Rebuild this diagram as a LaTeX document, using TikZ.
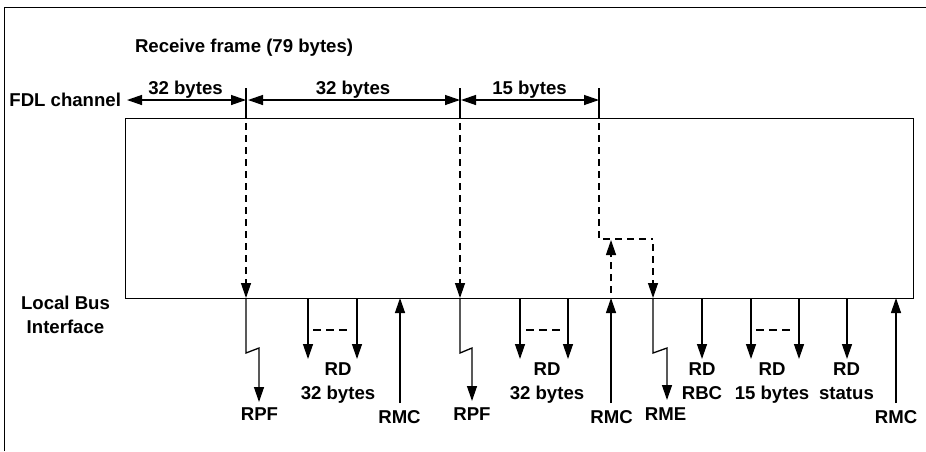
\documentclass[tikz,border=0pt]{standalone}
\usepackage{fontspec}
\setmainfont{Liberation Sans}
\usetikzlibrary{arrows.meta}
\begin{document}
\begin{tikzpicture}[x=1pt,y=-1pt,
  lbl/.style={font=\fontsize{18.6}{24}\selectfont\bfseries, inner sep=0pt, outer sep=0pt},
  ln/.style={line width=1.3pt},
  tip/.tip={Triangle[length=15pt,width=10pt]},
  arr/.style={ln,-tip},
  darr/.style={arr,dash pattern=on 7pt off 5pt, dash phase=7pt},
  dsh/.style={ln,dash pattern=on 7pt off 5pt, dash phase=7pt},
  dim/.style={ln,tip-tip},
  gap/.style={ln,dash pattern=on 8pt off 5pt},
]
\useasboundingbox (0,0) rectangle (926,451);
% outer frame
\draw[line width=1pt] (4,451) -- (4,7) -- (926,7);

% main box
\node[draw, ln, minimum width=788pt, minimum height=180pt, inner sep=0pt, anchor=north west] (box) at (125,118) {};

% texts
\node[lbl, anchor=base west] (title) at (135,52) {Receive frame (79 bytes)};
\node[lbl, anchor=base east] (fdl) at (121,106) {FDL channel};
\node[lbl, anchor=base] (d1) at (185.5,94) {32 bytes};
\node[lbl, anchor=base] (d2) at (353,94) {32 bytes};
\node[lbl, anchor=base] (d3) at (529.5,94) {15 bytes};
\node[lbl, align=center, anchor=north] (lbi) at (65.5,296.5) {Local Bus\\Interface};

% coordinates
\coordinate (a0) at (127,100);
\coordinate (a1) at (246,100);
\coordinate (a1b) at (248,100);
\coordinate (a2) at (460,100);
\coordinate (a2b) at (461,100);
\coordinate (a3) at (599,100);
\foreach \n/\x in {1/246,2/460,3/599}{
  \coordinate (t\n) at (\x,88);
  \coordinate (u\n) at (\x,118);
}
\coordinate (b1) at (246,298);
\coordinate (b2) at (460,298);
\coordinate (m3) at (599,239);
\coordinate (m4) at (653,239);
\coordinate (b4) at (653,298);
\coordinate (c5) at (611,298);
\coordinate (m5) at (611,240);

% dimension arrows
\draw[dim] (a0) -- (a1);
\draw[dim] (a1b) -- (a2);
\draw[dim] (a2b) -- (a3);
\draw[ln] (t1) -- (u1);
\draw[ln] (t2) -- (u2);
\draw[ln] (t3) -- (u3);

% dashed internal paths
\draw[darr] (u1) -- (b1);
\draw[darr] (u2) -- (b2);
\draw[dsh] (u3) -- (m3) -- (m4);
\draw[darr] (m4) -- (b4);
\draw[darr] (c5) -- (m5);

% labels at bottom
\node[lbl, anchor=base] (rpf1) at (259.5,420.5) {RPF};
\node[lbl, align=center, anchor=north] (rd1) at (338,362.7) {RD\\32 bytes};
\node[lbl, anchor=base] (rmc1) at (399.5,423) {RMC};
\node[lbl, anchor=base] (rpf2) at (472,420) {RPF};
\node[lbl, align=center, anchor=north] (rd2) at (547,362.7) {RD\\32 bytes};
\node[lbl, anchor=base] (rmc2) at (611.5,423) {RMC};
\node[lbl, anchor=base] (rme) at (665.5,420) {RME};
\node[lbl, align=center, anchor=north] (rd3) at (702,362.7) {RD\\RBC};
\node[lbl, align=center, anchor=north] (rd4) at (772,362.7) {RD\\15 bytes};
\node[lbl, align=center, anchor=north] (rd5) at (846.5,362.7) {RD\\status};
\node[lbl, anchor=base] (rmc3) at (896,423) {RMC};

% RPF 1
\draw[arr] (b1) -- (246,353) -- (259,348) -- (259,402);
% RD 32 bytes (1)
\draw[arr] (308,298) -- (308,359);
\draw[arr] (357,298) -- (357,359);
\draw[gap] (313,330) -- (347,330);
% RMC 1
\draw[arr] (400,403) -- (400,298);
% RPF 2
\draw[arr] (b2) -- (460,353) -- (472,348) -- (472,401);
% RD 32 bytes (2)
\draw[arr] (520,298) -- (520,359);
\draw[arr] (568,298) -- (568,359);
\draw[gap] (526,330) -- (560,330);
% RMC 2
\draw[arr] (611,403) -- (c5);
% RME
\draw[arr] (b4) -- (653,353) -- (667,348) -- (667,400);
% RD RBC
\draw[arr] (702,298) -- (702,359);
% RD 15 bytes
\draw[arr] (751,298) -- (751,359);
\draw[arr] (799,298) -- (799,359);
\draw[gap] (756,330) -- (790,330);
% RD status
\draw[arr] (847,298) -- (847,359);
% RMC 3
\draw[arr] (896,403) -- (896,298);
\end{tikzpicture}
\end{document}
